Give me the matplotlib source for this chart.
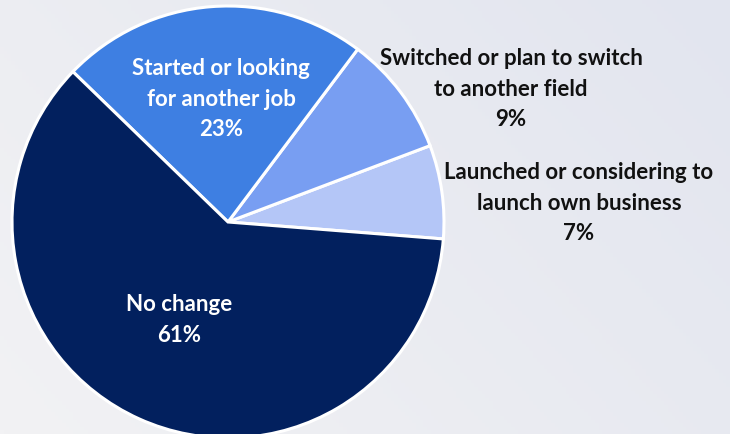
import numpy as np
import matplotlib.pyplot as plt
from matplotlib.colors import to_rgb

plt.rcParams['font.family'] = ['Lato', 'DejaVu Sans']

# Career changes, share of respondents (%)
categories = [
    'Launched or considering to\nlaunch own business',
    'Switched or plan to switch\nto another field',
    'Started or looking\nfor another job',
    'No change',
]
shares = [7, 9, 23, 61]
colors = ['#b4c6f7', '#789ef2', '#3e7fe2', '#02205e']

fig = plt.figure(figsize=(7.3, 4.34), dpi=100)
ax = fig.add_axes([0, 0, 1, 1])
W, H = 730, 434

# soft diagonal background wash
c0 = np.array(to_rgb('#f2f2f4'))
c1 = np.array(to_rgb('#e2e5ef'))
gx, gy = np.meshgrid(np.linspace(0, 1, 200), np.linspace(0, 1, 120))
t = (0.65 * gx + 0.35 * gy)[..., None]
ax.imshow(c0 + (c1 - c0) * t, extent=[0, W, H, 0], origin='upper', zorder=0)

wedges, _ = ax.pie(shares, colors=colors, startangle=-4.5, counterclock=True,
                   center=(228, H - 222), radius=216,
                   wedgeprops=dict(edgecolor='white', linewidth=2.2),
                   frame=True)
for w in wedges:
    w.set_zorder(2)

# label positions (x, y from top) and text colours
label_pos = [(579, 203), (511, 89), (221, 99), (179, 320)]
label_col = ['#111111', '#111111', 'white', 'white']
for name, val, (x, y), col in zip(categories, shares, label_pos, label_col):
    ax.text(x, H - y, f'{name}\n{val}%', ha='center', va='center',
            fontsize=16, fontweight='bold', color=col,
            linespacing=1.55, zorder=3)

ax.set_xlim(0, W)
ax.set_ylim(0, H)
ax.set_aspect('equal')
ax.axis('off')

fig.savefig('out.png', dpi=100)
